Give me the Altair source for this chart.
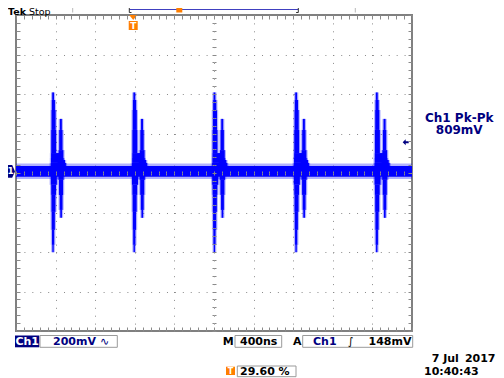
import altair as alt
import pandas as pd

# ---------------- instrument settings shown on the screen
T_PER_DIV = 400        # ns / div   ("M 400ns")
V_PER_DIV = 200        # mV / div   ("Ch1 200mV")
TRIG_POS = 0.296       # horizontal trigger position ("29.60 %")
GND_OFFSET = 8         # mV, ground marker sits a little above centre
TRIG_LEVEL = 148       # mV ("148mV")

T_MIN = -TRIG_POS * 10 * T_PER_DIV
T_MAX = T_MIN + 10 * T_PER_DIV
V_MIN = -4 * V_PER_DIV - GND_OFFSET
V_MAX = 4 * V_PER_DIV - GND_OFFSET

# ---------------- waveform (ns, mV re ground)
base_t = [T_MIN, T_MAX]
base_hi = [27, 27]
base_lo = [-27, -27]
haze_hi = [40, 40]
haze_lo = [-38, -38]

burst_t = [-810, 10, 820, 1645, 2460]      # burst (main spike) times, ns

main_up_mv = [23, 43, 68, 93, 210, 311, 362, 400]
main_up_l = [-25, -22, -20, -20, -17, -14, -11, -6]
main_up_r = [140, 120, 90, 35, 28, 25, 14, 6]

sec_up_mv = [23, 58, 108, 210, 266]
sec_up_l = [45, 52, 60, 64, 74]
sec_up_r = [130, 112, 98, 94, 84]

main_dn_mv = [-409, -372, -296, -205, -119, -68, -23]
main_dn_l = [-5, -9, -12, -15, -17, -20, -25]
main_dn_r = [5, 9, 15, 22, 28, 32, 45]

sec_dn_mv = [-235, -195, -119, -43, -23]
sec_dn_l = [76, 70, 64, 57, 52]
sec_dn_r = [86, 94, 98, 105, 110]

BLUE = "#0000ff"
NAVY = "#000080"
ORANGE = "#ff7f00"
GRAT = "#8a8a8a"
BOX = "#9a9a9a"
FONT = "DejaVu Sans"

base_df = pd.DataFrame({"t": base_t, "hi": base_hi, "lo": base_lo,
                        "hh": haze_hi, "hl": haze_lo})

spikes = {
    "mu": (main_up_mv, main_up_l, main_up_r),
    "su": (sec_up_mv, sec_up_l, sec_up_r),
    "md": (main_dn_mv, main_dn_l, main_dn_r),
    "sd": (sec_dn_mv, sec_dn_l, sec_dn_r),
}
rows = []
for bt in burst_t:
    for name, (mv, lft, rgt) in spikes.items():
        for i in range(len(mv) - 1):
            rows.append({
                "v1": mv[i], "v2": mv[i + 1],
                "l": bt + (lft[i] + lft[i + 1]) / 2,
                "r": bt + (rgt[i] + rgt[i + 1]) / 2,
            })
burst_df = pd.DataFrame(rows)

xs = alt.Scale(domain=[T_MIN, T_MAX], nice=False, zero=False)
ys = alt.Scale(domain=[V_MIN, V_MAX], nice=False, zero=False)

major_t = [T_MIN + T_PER_DIV * i for i in range(1, 10)]
minor_t = [T_MIN + T_PER_DIV / 5 * i for i in range(51)]
major_v = [V_MIN + V_PER_DIV * i for i in range(1, 8)]
minor_v = [V_MIN + V_PER_DIV / 5 * i for i in range(41)]


def ax(orient, values, offset=0, tick=0, grid=False, dash=None, z=0):
    kw = dict(orient=orient, values=values, labels=False, domain=False,
              title=None, ticks=tick > 0, grid=grid, zindex=z)
    if tick > 0:
        kw.update(tickSize=tick, tickColor=GRAT, tickWidth=1)
    if offset:
        kw["offset"] = offset
    if grid:
        kw.update(gridColor=GRAT, gridWidth=1, gridDash=dash)
    return alt.Axis(**kw)


# dotted graticule (grid of the base layer)
grid_layer = alt.Chart(base_df).mark_point(opacity=0).encode(
    x=alt.X("t:Q", scale=xs, axis=ax("bottom", major_t, grid=True, dash=[1, 6.9])),
    y=alt.Y("hi:Q", scale=ys, axis=ax("left", major_v, grid=True, dash=[1, 6.92])),
)


def tick_layer(xo, xoff, yo, yoff, size):
    return alt.Chart(base_df).mark_point(opacity=0).encode(
        x=alt.X("t:Q", scale=xs, axis=ax(xo, minor_t, xoff, size, z=1)),
        y=alt.Y("hi:Q", scale=ys, axis=ax(yo, minor_v, yoff, size, z=1)),
    )


ticks = [
    tick_layer("bottom", -316, "right", -396, 4),
    tick_layer("top", -316, "left", -396, 4),
    tick_layer("bottom", -158, "left", -198, 2),
    tick_layer("top", -158, "right", -198, 2),
]

haze = alt.Chart(base_df).mark_area(color=BLUE, opacity=0.3, clip=True).encode(
    x=alt.X("t:Q", scale=xs, axis=None),
    y=alt.Y("hh:Q", scale=ys, axis=None), y2="hl:Q")
band = alt.Chart(base_df).mark_area(color=BLUE, clip=True).encode(
    x=alt.X("t:Q", scale=xs, axis=None),
    y=alt.Y("hi:Q", scale=ys, axis=None), y2="lo:Q")

spike_haze = alt.Chart(burst_df).transform_calculate(
    l2="datum.l - 12", r2="datum.r + 12"
).mark_rect(color=BLUE, opacity=0.3, clip=True).encode(
    y=alt.Y("v1:Q", scale=ys, axis=None), y2="v2:Q",
    x=alt.X("l2:Q", scale=xs, axis=None), x2="r2:Q")
spike = alt.Chart(burst_df).mark_rect(color=BLUE, clip=True).encode(
    y=alt.Y("v1:Q", scale=ys, axis=None), y2="v2:Q",
    x=alt.X("l:Q", scale=xs, axis=None), x2="r:Q")

# trigger position marker (t = 0) below the top border
trig_df = pd.DataFrame({"t": [0]})
trig_tri = alt.Chart(trig_df).mark_point(
    shape="M-1,-0.6L1,-0.6L0,0.6Z", filled=True, color=ORANGE, opacity=1, size=64
).encode(x=alt.X("t:Q", scale=xs, axis=None), y=alt.value(2.5))
trig_box = alt.Chart(trig_df).mark_point(
    shape="square", filled=True, color=ORANGE, opacity=1, size=81
).encode(x=alt.X("t:Q", scale=xs, axis=None), y=alt.value(10.5))
trig_t = alt.Chart(trig_df).mark_text(
    text="T", color="white", fontSize=9, fontWeight="bold", font=FONT, baseline="middle"
).encode(x=alt.X("t:Q", scale=xs, axis=None), y=alt.value(11))

# ground marker (0 mV) and trigger level arrow
gnd_df = pd.DataFrame({"v": [0]})
gnd = alt.Chart(gnd_df).mark_point(
    shape="M-1,-1.8L0.2,-1.8L1,0L0.2,1.8L-1,1.8Z", filled=True, color=NAVY,
    opacity=1, size=49
).encode(x=alt.value(-4.5), y=alt.Y("v:Q", scale=ys, axis=None))
gnd_t = alt.Chart(gnd_df).mark_text(
    text="1", color="white", fontSize=9, fontWeight="bold", font=FONT, baseline="middle"
).encode(x=alt.value(-5.5), y=alt.Y("v:Q", scale=ys, axis=None))

lvl_df = pd.DataFrame({"v": [TRIG_LEVEL]})
lvl = alt.Chart(lvl_df).mark_point(
    shape="M-1,0L0,-1L0,-0.35L1,-0.35L1,0.35L0,0.35L0,1Z", filled=True, color=NAVY,
    opacity=1, size=36
).encode(x=alt.value(389.7), y=alt.Y("v:Q", scale=ys, axis=None))

ONE = alt.Data(values=[{}])


def txt(s, x, y, color="black", size=11, weight="bold", align="left"):
    return alt.Chart(ONE).mark_text(
        text=s, color=color, fontSize=size, fontWeight=weight, align=align,
        baseline="alphabetic", font=FONT
    ).encode(x=alt.value(x), y=alt.value(y))


def rect(x1, x2, y1, y2, fill=None, stroke=None):
    kw = {}
    if fill:
        kw["fill"] = fill
    else:
        kw["fillOpacity"] = 0
    if stroke:
        kw["stroke"] = stroke
        kw["strokeWidth"] = 1
    return alt.Chart(ONE).mark_rect(**kw).encode(
        x=alt.value(x1), x2=alt.value(x2), y=alt.value(y1), y2=alt.value(y2))


def rule(x1, x2, y1, y2, color, w=1):
    return alt.Chart(ONE).mark_rule(color=color, strokeWidth=w).encode(
        x=alt.value(x1), x2=alt.value(x2), y=alt.value(y1), y2=alt.value(y2))


chrome = [
    # top strip
    txt("Tek", -8, -0.5, size=9.5, weight="bold"),
    txt("Stop", 13, -0.5, size=9.5, weight="normal"),
    rule(56.7, 56.7, -7, -2.5, "#b8b8b8"),
    rule(339.3, 339.3, -7, -2.5, "#b8b8b8"),
    rule(113.3, 282.3, -5.5, -5.5, "#4040c0"),
    rule(113.3, 113.3, -7, -2.5, "#333333"),
    rule(113.3, 115.5, -2.5, -2.5, "#333333"),
    rule(282.3, 282.3, -7, -2.5, "#333333"),
    rule(280.1, 282.3, -2.5, -2.5, "#333333"),
    rect(160.3, 166.3, -7, -2.5, fill=ORANGE),
    # measurement readout
    txt("Ch1 Pk-Pk", 443.2, 106.7, color=NAVY, size=12, align="center"),
    txt("809mV", 443.2, 119.3, color=NAVY, size=12, align="center"),
    # bottom status line
    rect(-1, 23.3, 320.5, 332.3, fill=NAVY),
    txt("Ch1", 11.2, 330.3, color="white", align="center"),
    rect(24, 101.3, 320.5, 332.3, stroke=BOX),
    txt("200mV", 37, 330.3, color=NAVY),
    txt("\u223f", 84, 330.3, color=NAVY, weight="normal"),
    txt("M", 206.7, 330.3),
    rect(219, 265.7, 320.5, 332.3, stroke=BOX),
    txt("400ns", 224, 330.3),
    txt("A", 277, 330.3),
    rect(286.7, 396.7, 320.5, 332.3, stroke=BOX),
    txt("Ch1", 297, 330.3, color=NAVY),
    txt("\u222b", 332, 330.3, weight="normal"),
    txt("148mV", 395.5, 330.3, align="right"),
    txt("7 Jul", 415.7, 346.7),
    txt("2017", 479.5, 346.7, align="right"),
    rect(210, 219, 351.7, 360, fill=ORANGE),
    txt("T", 214.5, 359, color="white", size=8, align="center"),
    rect(221.3, 280, 351, 361.7, stroke=BOX),
    txt("29.60 %", 224, 360),
    txt("10:40:43", 408, 360),
]

layers = [grid_layer, haze, band, spike_haze, spike] + ticks + [
    trig_tri, trig_box, trig_t, gnd, gnd_t, lvl] + chrome

chart = alt.layer(*layers).resolve_axis(
    x="independent", y="independent"
).properties(
    width=396, height=316,
    padding={"left": 8, "top": 7, "right": 84, "bottom": 47},
    autosize=alt.AutoSizeParams(type="none"),
    background="white",
).configure_view(stroke="#808080", strokeWidth=2)

chart.save("out.html", embed_options={"renderer": "svg", "actions": False})
